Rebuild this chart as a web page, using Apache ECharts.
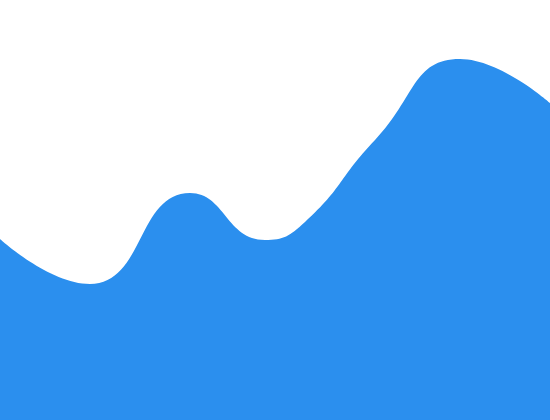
<!DOCTYPE html>
<html>
<head>
<meta charset="utf-8">
<script src="https://cdn.jsdelivr.net/npm/echarts@6/dist/echarts.min.js"></script>
<style>html,body{margin:0;padding:0;background:#fff}#c{width:550px;height:420px}</style>
</head>
<body>
<div id="c"></div>
<script>
var xPositions = [0, 90, 190, 265, 305, 375, 460, 550];
var values = [181, 136, 227, 180, 198, 280, 361, 317];
var yMin = 0;
var yMax = 420;

var chart = echarts.init(document.getElementById('c'));
chart.setOption({
  animation: false,
  grid: {left: 0, right: 0, top: 0, bottom: 0},
  xAxis: {type: 'value', min: 0, max: 550, show: false},
  yAxis: {type: 'value', min: yMin, max: yMax, show: false},
  series: [{
    type: 'line',
    data: xPositions.map(function (x, i) { return [x, values[i]]; }),
    smooth: true,
    symbol: 'none',
    lineStyle: {width: 0, color: '#2b8fee'},
    areaStyle: {color: '#2b8fee', opacity: 1}
  }]
});
</script>
</body>
</html>
